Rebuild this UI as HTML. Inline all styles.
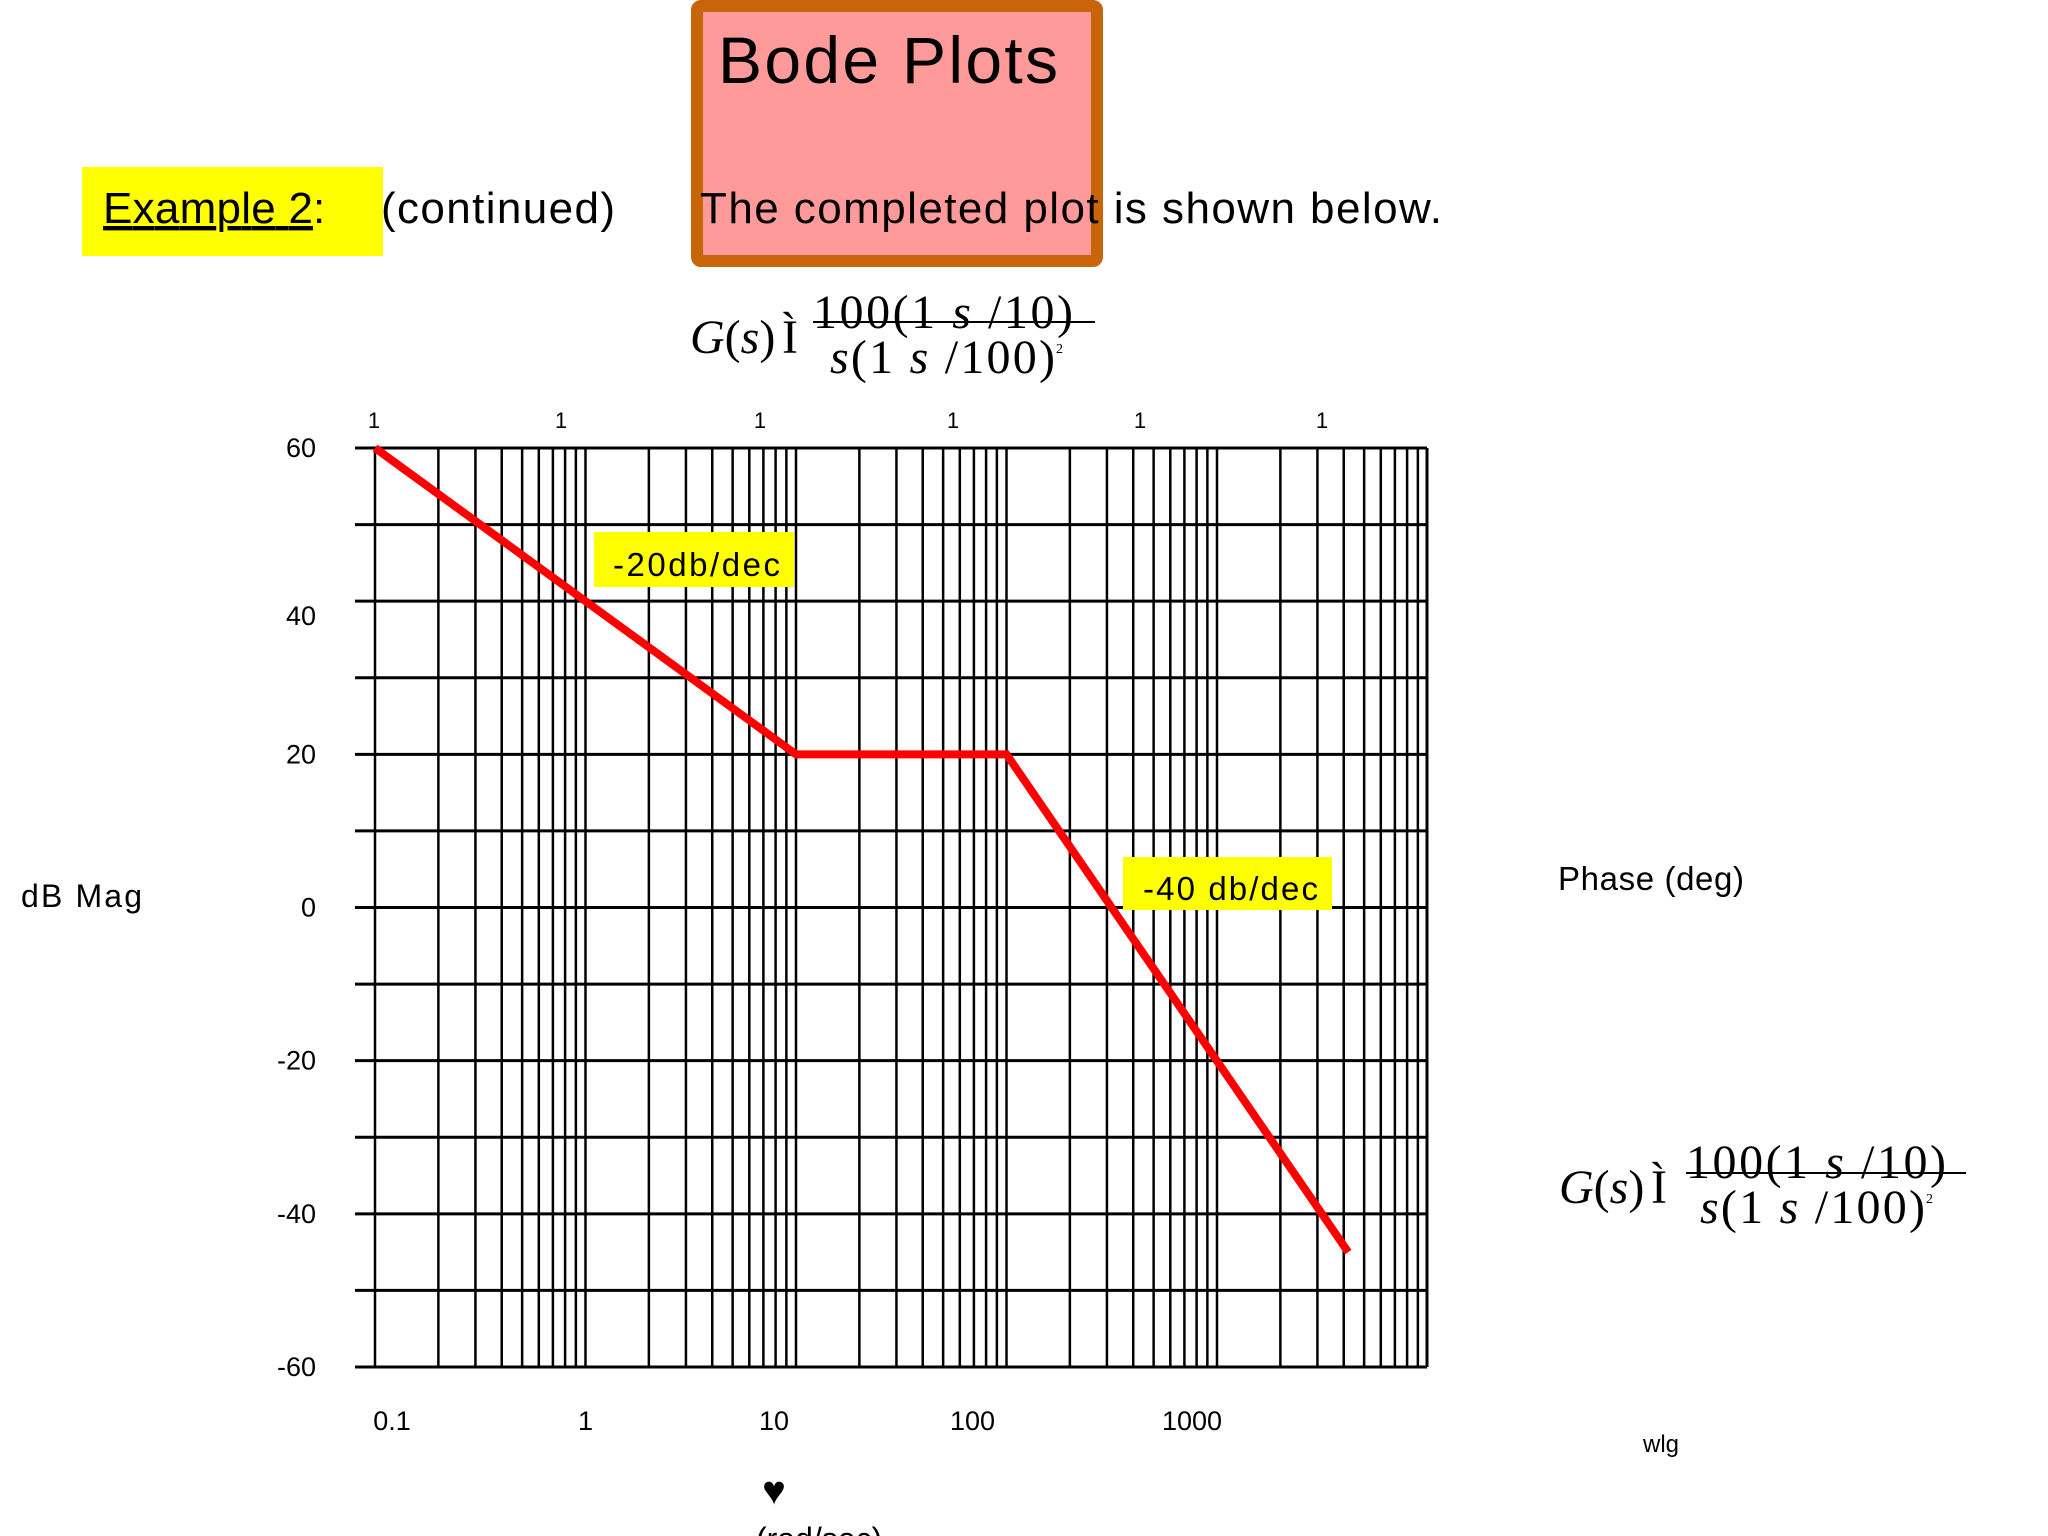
<!DOCTYPE html>
<html><head><meta charset="utf-8"><style>
html,body{margin:0;padding:0;background:#fff;}
svg{display:block;}
.s{font-family:"Liberation Sans",sans-serif;}
.f{font-family:"Liberation Serif",serif;}
</style></head><body>
<svg id="chart" width="2048" height="1536" viewBox="0 0 2048 1536">
<rect x="697" y="6" width="400" height="255" fill="#ff9a9a" stroke="#c8640a" stroke-width="12" rx="4"/>
<text x="718" y="83" class="s" font-size="66" textLength="340">Bode Plots</text>
<rect x="82" y="167" width="301" height="89" fill="#ffff00"/>
<text x="103" y="223" class="s" font-size="44" text-decoration="underline" textLength="210">Example 2</text>
<text x="313" y="223" class="s" font-size="44">:</text>
<text x="381" y="223" class="s" font-size="44" textLength="234">(continued)</text>
<text x="700" y="223" class="s" font-size="44" textLength="742">The completed plot is shown below.</text>

<g transform="translate(690,353)">
<text x="0" y="0" class="f" font-size="48"><tspan font-style="italic">G</tspan>(<tspan font-style="italic">s</tspan>)</text>
<text x="92" y="0" class="f" font-size="48">Ì</text>
<text x="123" y="-25" class="f" font-size="48" textLength="260">100(1  <tspan font-style="italic">s</tspan> /10)</text>
<line x1="123" y1="-31" x2="405" y2="-31" stroke="#000" stroke-width="2"/>
<text x="140" y="20" class="f" font-size="48" textLength="225"><tspan font-style="italic">s</tspan>(1  <tspan font-style="italic">s</tspan> /100)</text>
<text x="366" y="0" class="f" font-size="14">2</text>
</g>
<g transform="translate(1559,1203)">
<text x="0" y="0" class="f" font-size="48"><tspan font-style="italic">G</tspan>(<tspan font-style="italic">s</tspan>)</text>
<text x="92" y="0" class="f" font-size="48">Ì</text>
<text x="127" y="-25" class="f" font-size="48" textLength="260">100(1  <tspan font-style="italic">s</tspan> /10)</text>
<line x1="127" y1="-30" x2="407" y2="-30" stroke="#000" stroke-width="2"/>
<text x="141" y="20" class="f" font-size="48" textLength="225"><tspan font-style="italic">s</tspan>(1  <tspan font-style="italic">s</tspan> /100)</text>
<text x="367" y="0" class="f" font-size="14">2</text>
</g>

<g id="grid"></g>
<g id="ylabels"></g>
<g id="xlabels"></g>
<g id="toplabels"></g>
<polyline id="curve" fill="none" stroke="#ff0000" stroke-width="8" stroke-linejoin="miter"/>

<rect x="594" y="532" width="200" height="55" fill="#ffff00"/>
<text x="613" y="576" class="s" font-size="33" textLength="167">-20db/dec</text>
<rect x="1123" y="857" width="209" height="53" fill="#ffff00"/>
<text x="1143" y="900" class="s" font-size="33" textLength="175">-40 db/dec</text>

<text x="21" y="907" class="s" font-size="32" textLength="121">dB Mag</text>
<text x="1558" y="890" class="s" font-size="33" textLength="186">Phase (deg)</text>
<text x="1643" y="1452" class="s" font-size="24">wlg</text>
<text x="774" y="1504" class="s" font-size="40" text-anchor="middle">♥</text>
<text x="756" y="1550" class="s" font-size="32">(rad/sec)</text>
</svg>
<script>
const yTicks=[60,40,20,0,-20,-40,-60];
const xTickLabels=["0.1","1","10","100","1000"];
const xTickValues=[0.1,1,10,100,1000];
const curveW=[0.1,10,100,4200];
const curveDb=[60,20,20,-45];
const NS='http://www.w3.org/2000/svg';
const X0=375,DEC=210.5,YT=448,YB=1367,XR=1427,WMIN=0.1;
const xs=w=>X0+Math.log10(w/WMIN)*DEC;
const ys=d=>YT+(60-d)*(YB-YT)/120;
function mk(tag,attrs,parent){const e=document.createElementNS(NS,tag);for(const k in attrs)e.setAttribute(k,attrs[k]);parent.appendChild(e);return e;}
const grid=document.getElementById('grid');
for(let d=60;d>=-60;d-=10){
 const l=mk('line',{x1:355,x2:XR,y1:ys(d),y2:ys(d),stroke:'#000','stroke-width':3},grid);
 
 
}
for(let dec=0;dec<5;dec++){
 for(let k=1;k<=9;k++){
  const x=xs(WMIN*Math.pow(10,dec)*k);
  const l=mk('line',{x1:x,x2:x,y1:YT,y2:YB,stroke:'#000','stroke-width':2.5},grid);
  
  
 }
}
const re=mk('line',{x1:XR,x2:XR,y1:YT,y2:YB,stroke:'#000','stroke-width':3},grid);


const yl=document.getElementById('ylabels');
yTicks.forEach(v=>{const off=(v===40)?24:9;const t=mk('text',{x:316,y:ys(v)+off,'text-anchor':'end','font-size':27,class:'s'},yl);t.textContent=v;
 
 });
const xl=document.getElementById('xlabels');
const xOff=[17,0,-22,-34,-25];
xTickValues.forEach((v,i)=>{const t=mk('text',{x:xs(v)+xOff[i],y:1430,'text-anchor':'middle','font-size':27,class:'s'},xl);t.textContent=xTickLabels[i];
 
 });
const tl=document.getElementById('toplabels');
[374,561,760,953,1140,1322].forEach(x=>{const t=mk('text',{x:x,y:428,'text-anchor':'middle','font-size':22,class:'s'},tl);t.textContent='1';
 
 });
document.getElementById('curve').setAttribute('points',curveW.map((w,i)=>xs(w)+','+ys(curveDb[i])).join(' '));
</script>
</body></html>
